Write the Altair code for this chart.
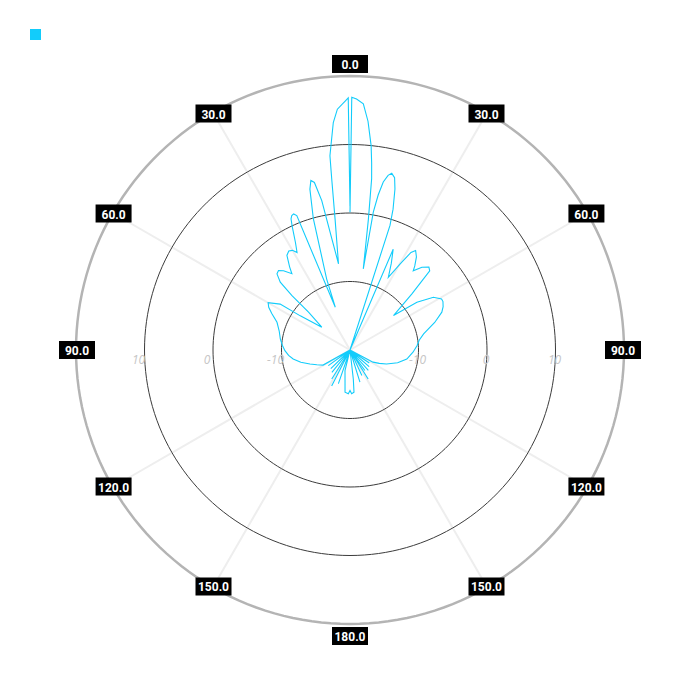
import altair as alt
import pandas as pd

# ---- data (angle in degrees clockwise from top, gain in dB) ----
angle_deg = [
    0.0, 0.4, 1.5, 3.1, 4.5, 5.9, 6.6, 7.2, 8.0, 9.3, 9.6, 10.3, 11.2, 12.3, 13.3, 14.5, 15.6,
    17.0, 17.8, 19.5, 23.2, 25.5, 27.8, 30.2, 32.0, 33.4, 35.5, 37.6, 38.6, 41.0, 43.6, 45.2,
    47.8, 51.6, 54.5, 57.7, 60.9, 62.5, 65.0, 67.6, 72.0, 77.7, 82.0, 86.3, 92.0, 99.0, 105.0,
    110.9, 114.5, 117.8, 120.5, 124.0, 127.5, 131.0, 134.5, 138.0, 141.0, 144.0, 146.0, 148.0,
    151.0, 155.0, 158.5, 162.8, 166.0, 173.5, 174.6, 177.8, 180.0, 182.2, 186.7, 193.6, 195.5,
    199.0, 202.0, 207.0, 210.0, 212.2, 215.0, 219.0, 222.0, 226.0, 229.5, 234.2, 237.5,
    240.7, 246.0, 250.7, 256.0, 261.0, 265.0, 269.4, 274.0, 279.0, 285.0, 290.8, 295.0, 297.7,
    300.0, 303.3, 304.5, 309.0, 312.4, 313.1, 314.2, 316.2, 318.0, 320.0, 322.7, 324.0, 326.3,
    328.3, 330.0, 331.5, 333.1, 335.0, 335.8, 336.6, 337.5, 338.4, 341.0, 341.8, 344.4, 346.0,
    347.0, 348.0, 349.3, 350.4, 352.4, 353.5, 353.9, 354.1, 355.8, 357.0, 359.0, 359.6, 360.0,
]
gain_db = [
    0.1, 16.9, 16.65, 16.0, 13.5, 10.0, 7.5, 5.2, -0.7, -8.0, 0.4, 3.0, 5.0, 6.1, 6.5, 6.0, 4.4,
    1.5, -0.9, -20.0, -4.0, -6.0, -8.0, -5.5, -3.2, -2.6, -3.3, -4.5, -5.2, -4.0, -3.3, -3.6,
    -7.8, -11.9, -8.0, -5.6, -4.7, -4.7, -5.0, -5.5, -7.0, -9.0, -9.8, -10.2, -10.8, -11.6, -12.8,
    -14.3, -15.3, -16.2, -20.0, -16.6, -20.0, -16.3, -20.0, -16.0, -20.0, -16.3, -20.0, -15.0,
    -20.0, -15.9, -20.0, -15.1, -20.0, -15.7, -13.8, -13.6, -14.1, -13.6, -13.8, -16.9, -20.0,
    -14.8, -20.0, -14.1, -20.0, -15.0, -20.0, -15.8, -20.0, -16.1, -20.0, -16.1, -20.0,
    -15.5, -14.7, -13.8, -12.6, -11.6, -11.0, -10.5, -10.1, -9.7, -9.3, -8.6, -7.4, -6.6,
    -6.2, -7.8, -11.2, -14.7, -11.8, -8.4, -5.8, -4.6, -4.4, -4.9, -6.0, -5.0, -3.4,
    -3.0, -3.2, -3.8, -2.4, 0.0, 1.0, 1.4, 1.5, 1.1, -13.4, -9.1, -0.1, 4.2,
    5.4, 5.0, 2.2, -2.5, -7.3, -0.7, 5.1, 8.5, 13.3, 15.2, 16.4, 16.8, 1.0,
]

tick_angles = [0, 30, 60, 90, 120, 150, 180, 210, 240, 270, 300, 330]
tick_labels = ["0.0", "30.0", "60.0", "90.0", "120.0", "150.0", "180.0",
               "150.0", "120.0", "90.0", "60.0", "30.0"]
spoke_angles = [30, 60, 120, 150, 210, 240, 300, 330]
ring_levels = [-10, 0, 10]
outer_level = 20
ring_label_levels = [10, 0, -10]
db_min = -20

# ---- styling / geometry ----
CYAN = "#12ccfb"
PX_PER_DB = 6.85
SIZE = 684
HALF = SIZE / 2 / PX_PER_DB

xs = alt.Scale(domain=[-HALF, HALF], nice=False, zero=False)
ys = alt.Scale(domain=[-HALF, HALF], nice=False, zero=False)

def polar_xy(chart, r_expr, a_expr):
    return chart.transform_calculate(
        rr=r_expr
    ).transform_calculate(
        px=f"datum.rr * sin(({a_expr}) * PI / 180)",
        py=f"datum.rr * cos(({a_expr}) * PI / 180)",
    )

X = alt.X("px:Q", scale=xs, axis=None)
Y = alt.Y("py:Q", scale=ys, axis=None)

# pattern
pat = pd.DataFrame({"angle": angle_deg, "db": gain_db,
                    "i": list(range(len(angle_deg))), "series": ""})
pattern = polar_xy(alt.Chart(pat), f"max(datum.db, {db_min}) - ({db_min})", "datum.angle").mark_line(
    strokeWidth=1.1, strokeJoin="miter"
).encode(
    x=X, y=Y, order="i:Q",
    color=alt.Color("series:N", scale=alt.Scale(range=[CYAN]),
                    legend=alt.Legend(title=None, orient="none", legendX=22, legendY=21,
                                      symbolType="square", symbolSize=121, labelExpr="''",
                                      symbolStrokeWidth=0, symbolFillColor=CYAN,
                                      symbolStrokeColor=CYAN)),
)

# rings
ring_rows = [{"level": lv, "a": a} for lv in ring_levels for a in range(0, 361, 2)]
rings = polar_xy(alt.Chart(pd.DataFrame(ring_rows)), f"datum.level - ({db_min})", "datum.a").mark_line(
    color="#3c3c3c", strokeWidth=1
).encode(x=X, y=Y, detail="level:N", order="a:Q")

outer_rows = [{"level": outer_level, "a": a} for a in range(0, 361, 2)]
outer = polar_xy(alt.Chart(pd.DataFrame(outer_rows)), f"datum.level - ({db_min})", "datum.a").mark_line(
    color="#b4b4b4", strokeWidth=2.5
).encode(x=X, y=Y, order="a:Q")

# spokes
spoke_rows = [{"a": a, "level": lv} for a in spoke_angles for lv in (db_min, outer_level)]
spokes = polar_xy(alt.Chart(pd.DataFrame(spoke_rows)), f"datum.level - ({db_min})", "datum.a").mark_line(
    color="#eeeeee", strokeWidth=2
).encode(x=X, y=Y, detail="a:N", order="level:Q")

# radial labels
rl = pd.DataFrame({"level": ring_label_levels, "txt": [str(v) for v in ring_label_levels]})
rl_left = polar_xy(alt.Chart(rl), f"datum.level - ({db_min})", "270").mark_text(
    fontStyle="italic", fontSize=12, color="#c6c6c6", font="Open Sans",
    align="center", baseline="middle", dx=-6, dy=10
).encode(x=X, y=Y, text="txt:N")
rl_right = polar_xy(alt.Chart(rl), f"datum.level - ({db_min})", "90").mark_text(
    fontStyle="italic", fontSize=12, color="#c6c6c6", font="Open Sans",
    align="center", baseline="middle", dx=-1, dy=10
).encode(x=X, y=Y, text="txt:N")

# angular labels
tl = pd.DataFrame({"a": tick_angles, "txt": tick_labels})
label_r = f"(datum.a % 180 == 0 ? 286 : 273) / {PX_PER_DB}"
boxes = polar_xy(alt.Chart(tl), label_r, "datum.a").mark_point(
    shape="M-1,-0.5H1V0.5H-1Z", size=36 * 36, filled=True, color="black", opacity=1
).encode(x=X, y=Y)
texts = polar_xy(alt.Chart(tl), label_r, "datum.a").mark_text(
    color="white", fontWeight="bold", fontSize=12, font="Roboto",
    align="center", baseline="middle", dy=1
).encode(x=X, y=Y, text="txt:N")

chart = alt.layer(
    spokes, rings, outer, pattern, rl_left, rl_right, boxes, texts
).properties(
    width=SIZE, height=SIZE, padding=0,
    autosize=alt.AutoSizeParams(type="none")
).configure_view(stroke=None).configure_legend(padding=0)

chart.save("out.html", embed_options={"renderer": "svg", "actions": False})
